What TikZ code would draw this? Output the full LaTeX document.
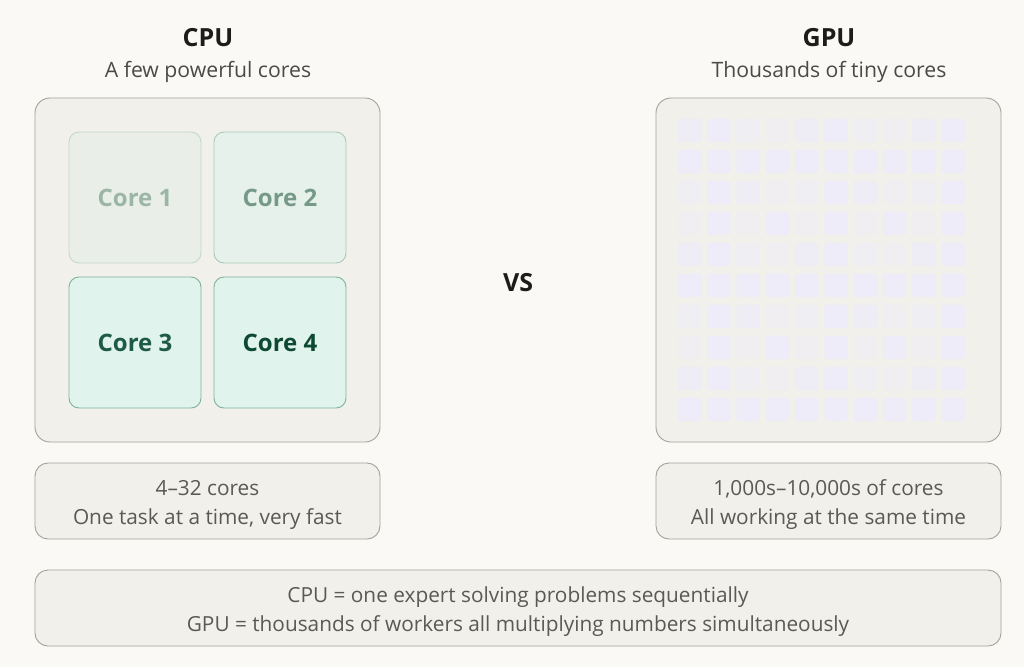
\documentclass[tikz,border=0pt]{standalone}
\usepackage{fontspec}
\setmainfont{Open Sans}
\usetikzlibrary{positioning}

\definecolor{pagebg}{HTML}{FAF9F6}
\definecolor{boxfill}{HTML}{F2F0EA}
\definecolor{boxline}{HTML}{A3A19C}
\definecolor{titlecol}{HTML}{1C1C1A}
\definecolor{subcol}{HTML}{4A4A47}
\definecolor{infocol}{HTML}{5A5955}
\definecolor{coreAfill}{HTML}{E9EFE8}
\definecolor{coreAline}{HTML}{C3D8CC}
\definecolor{coreAtext}{HTML}{9BB5A7}
\definecolor{coreBfill}{HTML}{E5F1EA}
\definecolor{coreBline}{HTML}{A8CAB8}
\definecolor{coreBtext}{HTML}{76998A}
\definecolor{coreCfill}{HTML}{E0F3EC}
\definecolor{coreCline}{HTML}{7DB29C}
\definecolor{coreCtext}{HTML}{1F5A45}
\definecolor{coreDtext}{HTML}{0E4A33}
\definecolor{gpu0}{HTML}{EEEDF5}
\definecolor{gpu1}{HTML}{F0EEF0}
\definecolor{gpu2}{HTML}{EFEEF3}
\definecolor{gpu3}{HTML}{EDECF8}

\tikzset{
  chipbox/.style={draw=boxline, fill=boxfill, line width=0.9pt, rounded corners=15pt,
    minimum width=345pt, minimum height=344pt, inner sep=0pt},
  infobox/.style={draw=boxline, fill=boxfill, line width=0.9pt, rounded corners=13pt,
    minimum height=76pt, inner sep=0pt},
  infotext/.style={align=center, text=infocol, inner sep=0pt,
    font=\fontsize{20.8}{29}\selectfont},
  corebox/.style={rounded corners=10pt, line width=0.9pt, minimum width=132pt,
    minimum height=131pt, inner sep=0pt, font=\fontsize{24}{28}\selectfont\bfseries},
  headline/.style={text=titlecol, font=\fontsize{25}{28}\selectfont\bfseries, inner sep=0pt},
  subline/.style={text=subcol, font=\fontsize{21.2}{25}\selectfont, inner sep=0pt},
  tinycore/.style={rounded corners=3pt, minimum width=23.5pt, minimum height=23.5pt, inner sep=0pt}
}

\begin{document}
\begin{tikzpicture}[x=1pt, y=-1pt]

\useasboundingbox (0,0) rectangle (1024,667);
\fill[pagebg] (0,0) rectangle (1024,667);

% Titles
\node[headline] (cputitle) at (208,38) {CPU};
\node[subline] (cpusub) at (208,71.5) {A few powerful cores};
\node[headline] (gputitle) at (829,38) {GPU};
\node[subline] (gpusub) at (829,71.5) {Thousands of tiny cores};

% The CPU with its four cores
\node[chipbox] (cpu) at (207.5,270) {};
\node[corebox, fill=coreAfill, draw=coreAline, text=coreAtext] (core1) at (135,197.5) {Core 1};
\node[corebox, fill=coreBfill, draw=coreBline, text=coreBtext] (core2) at (280,197.5) {Core 2};
\node[corebox, fill=coreCfill, draw=coreCline, text=coreCtext] (core3) at (135,342.5) {Core 3};
\node[corebox, fill=coreCfill, draw=coreCline, text=coreDtext] (core4) at (280,342.5) {Core 4};

\node[text=titlecol, font=\fontsize{25}{28}\selectfont\bfseries] (vs) at (518,283) {VS};

% The GPU with its grid of tiny cores
\node[chipbox] (gpu) at (828.5,270) {};
\foreach \i in {0,...,9}{
    \foreach \j in {0,...,9}{
    \pgfmathtruncatemacro{\shade}{mod(\i*7+\j*3+\i*\j,4)}
    \node[tinycore, fill=gpu\shade] (tiny-\i-\j) at (689.5+29.3*\i,130.4+31*\j) {};
    }
}

% The info boxes
\node[infobox, minimum width=345pt] (cpuinfo) at (207.5,501) {};
\node[infotext] (cpuinfotext) at ([yshift=-3.5pt]cpuinfo.center) {4–32 cores\\One task at a time, very fast};
\node[infobox, minimum width=345pt] (gpuinfo) at (828.5,501) {};
\node[infotext] (gpuinfotext) at ([yshift=-3.5pt]gpuinfo.center) {1,000s–10,000s of cores\\All working at the same time};
\node[infobox, minimum width=966pt] (summary) at (518,608) {};
\node[infotext] (summarytext) at ([yshift=-3.5pt]summary.center)
   {CPU = one expert solving problems sequentially\\GPU = thousands of workers all multiplying numbers simultaneously};

\end{tikzpicture}
\end{document}
